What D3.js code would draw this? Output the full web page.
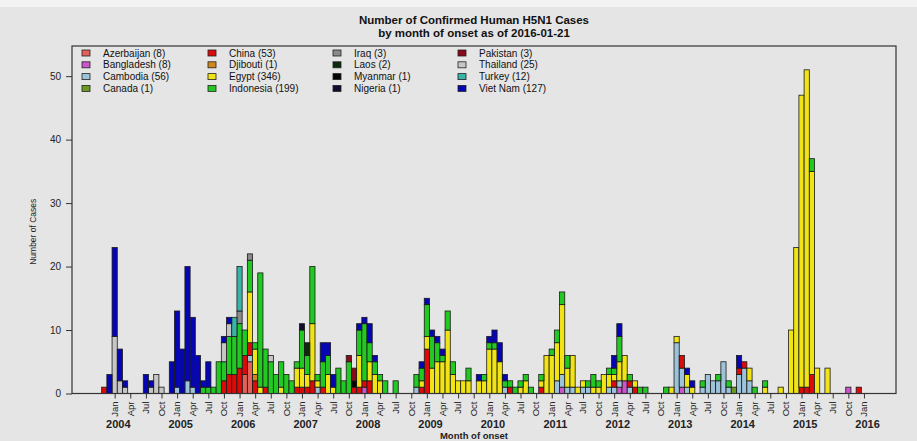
<!DOCTYPE html>
<html>
<head>
<meta charset="utf-8">
<script src="https://cdn.jsdelivr.net/npm/d3@7"></script>
<style>
  html, body { margin: 0; padding: 0; background: #e5e5e5; }
  svg { display: block; font-family: "Liberation Sans", Arial, sans-serif; }
</style>
</head>
<body>
<svg id="chart" width="917" height="441"></svg>
<script>
// ---- data ----------------------------------------------------------------
const titleLines = ["Number of Confirmed Human H5N1 Cases", "by month of onset as of 2016-01-21"];
const countries = ["Azerbaijan", "Bangladesh", "Cambodia", "Canada", "China", "Djibouti", "Egypt",
  "Indonesia", "Iraq", "Laos", "Myanmar", "Nigeria", "Pakistan", "Thailand", "Turkey", "Viet Nam"];
const totals = [8, 8, 56, 1, 53, 1, 346, 199, 3, 2, 1, 1, 3, 25, 12, 127];

// cases per month of onset, [month, cases]
const azerbaijan = [["2006-02", 3], ["2006-03", 5]];
const bangladesh = [["2008-01", 1], ["2011-03", 1], ["2012-02", 1], ["2012-03", 2], ["2013-02", 1], ["2015-10", 1]];
const cambodia = [["2005-01", 1], ["2005-03", 2], ["2005-04", 1], ["2006-03", 1], ["2007-04", 1], ["2008-11", 1],
  ["2010-04", 1], ["2011-02", 2], ["2011-03", 2], ["2011-04", 1], ["2011-05", 1], ["2011-07", 1], ["2011-08", 1],
  ["2011-12", 1], ["2012-01", 1], ["2012-02", 1], ["2012-04", 1], ["2013-01", 8], ["2013-02", 3], ["2013-03", 1],
  ["2013-06", 1], ["2013-07", 3], ["2013-08", 2], ["2013-09", 2], ["2013-10", 5], ["2013-11", 1],
  ["2014-01", 3], ["2014-02", 4], ["2014-03", 2]];
const canada = [["2013-12", 1]];
const china = [["2003-11", 1], ["2005-10", 2], ["2005-11", 3], ["2005-12", 3], ["2006-01", 4], ["2006-02", 3],
  ["2006-03", 2], ["2006-04", 2], ["2006-06", 1], ["2006-12", 1], ["2007-01", 1], ["2007-02", 1], ["2007-03", 2],
  ["2007-05", 1], ["2007-11", 1], ["2007-12", 1], ["2008-01", 1], ["2008-02", 2], ["2008-12", 1], ["2009-01", 7],
  ["2010-05", 1], ["2010-11", 1], ["2012-01", 1], ["2012-04", 1], ["2012-05", 1], ["2013-02", 2], ["2014-01", 1],
  ["2014-02", 1], ["2015-01", 1], ["2015-02", 1], ["2015-03", 3], ["2015-12", 1]];
const djibouti = [["2006-04", 1]];
const egypt = [["2006-03", 8], ["2006-04", 4], ["2006-05", 1], ["2006-09", 1], ["2006-12", 3], ["2007-01", 3],
  ["2007-02", 2], ["2007-03", 9], ["2007-04", 1], ["2007-06", 3], ["2007-07", 1], ["2007-12", 5], ["2008-02", 3],
  ["2008-03", 3], ["2008-04", 2], ["2008-12", 1], ["2009-01", 2], ["2009-02", 4], ["2009-03", 5], ["2009-04", 5],
  ["2009-05", 10], ["2009-06", 3], ["2009-07", 2], ["2009-08", 2], ["2009-09", 2], ["2009-11", 2], ["2009-12", 2],
  ["2010-01", 7], ["2010-02", 7], ["2010-03", 5], ["2010-07", 1], ["2010-08", 2], ["2010-11", 1], ["2010-12", 6],
  ["2011-01", 6], ["2011-02", 6], ["2011-03", 11], ["2011-04", 3], ["2011-05", 5], ["2011-06", 1], ["2011-07", 1],
  ["2011-09", 1], ["2011-10", 1], ["2011-11", 3], ["2011-12", 2], ["2012-01", 1], ["2012-02", 3], ["2012-03", 4],
  ["2012-05", 1], ["2012-12", 1], ["2013-01", 1], ["2013-03", 2], ["2013-04", 1], ["2014-03", 2], ["2014-06", 1],
  ["2014-09", 1], ["2014-11", 10], ["2014-12", 23], ["2015-01", 46], ["2015-02", 50], ["2015-03", 32],
  ["2015-04", 4], ["2015-06", 4]];
const indonesia = [["2005-06", 1], ["2005-07", 1], ["2005-08", 1], ["2005-09", 5], ["2005-10", 3], ["2005-11", 6],
  ["2005-12", 6], ["2006-01", 7], ["2006-02", 4], ["2006-03", 5], ["2006-04", 1], ["2006-05", 18], ["2006-06", 6],
  ["2006-07", 5], ["2006-08", 3], ["2006-09", 4], ["2006-10", 3], ["2006-11", 2], ["2006-12", 1], ["2007-01", 6],
  ["2007-02", 3], ["2007-03", 9], ["2007-04", 1], ["2007-05", 4], ["2007-06", 3], ["2007-08", 4], ["2007-09", 2],
  ["2007-10", 5], ["2007-12", 4], ["2008-01", 9], ["2008-02", 3], ["2008-03", 2], ["2008-04", 1], ["2008-05", 2],
  ["2008-07", 2], ["2008-11", 2], ["2008-12", 2], ["2009-01", 5], ["2009-02", 5], ["2009-03", 3], ["2009-04", 1],
  ["2009-05", 3], ["2009-06", 2], ["2009-09", 2], ["2009-12", 1], ["2010-01", 1], ["2010-02", 1], ["2010-04", 1],
  ["2010-05", 1], ["2010-06", 1], ["2010-07", 1], ["2010-08", 1], ["2010-09", 1], ["2010-11", 1], ["2011-01", 1],
  ["2011-02", 2], ["2011-03", 2], ["2011-04", 2], ["2011-08", 1], ["2011-09", 2], ["2011-10", 1], ["2011-12", 1],
  ["2012-01", 1], ["2012-02", 4], ["2012-04", 1], ["2012-06", 1], ["2012-07", 1], ["2012-11", 1], ["2013-06", 1],
  ["2013-09", 1], ["2013-11", 1], ["2014-04", 1], ["2014-06", 1], ["2015-03", 2]];
const iraq = [["2006-01", 2], ["2006-03", 1]];
const laos = [["2007-02", 2]];
const myanmar = [["2007-11", 1]];
const nigeria = [["2007-01", 1]];
const pakistan = [["2007-10", 1], ["2007-11", 2]];
const thailand = [["2004-01", 9], ["2004-02", 2], ["2004-03", 1], ["2004-08", 1], ["2004-09", 3], ["2004-10", 1],
  ["2005-10", 3], ["2005-11", 2], ["2006-07", 1]];
const turkey = [["2005-12", 3], ["2006-01", 7]];
const vietNam = [["2003-12", 3], ["2004-01", 14], ["2004-02", 5], ["2004-03", 1], ["2004-07", 3], ["2004-08", 1],
  ["2004-12", 5], ["2005-01", 12], ["2005-02", 7], ["2005-03", 18], ["2005-04", 11], ["2005-05", 6], ["2005-06", 1],
  ["2005-07", 4], ["2005-10", 1], ["2005-11", 1], ["2007-05", 3], ["2007-06", 2], ["2007-07", 2], ["2007-12", 1],
  ["2008-01", 1], ["2008-02", 3], ["2008-03", 1], ["2008-12", 1], ["2009-01", 1], ["2009-02", 1], ["2009-03", 1],
  ["2009-04", 1], ["2009-11", 1], ["2010-01", 1], ["2010-02", 2], ["2010-03", 3], ["2010-04", 1], ["2012-01", 2],
  ["2012-02", 2], ["2013-03", 1], ["2013-04", 1], ["2014-01", 2]];

const seriesData = [azerbaijan, bangladesh, cambodia, canada, china, djibouti, egypt, indonesia,
  iraq, laos, myanmar, nigeria, pakistan, thailand, turkey, vietNam];

const firstMonth = "2003-11";
const lastMonth = "2015-12";
const monthTickNames = ["Jan", "Apr", "Jul", "Oct"];
const yearLabels = ["2004", "2005", "2006", "2007", "2008", "2009", "2010", "2011", "2012", "2013", "2014", "2015", "2016"];
const yTicks = [0, 10, 20, 30, 40, 50];

// ---- styling -------------------------------------------------------------
const fills = ["#e2625a", "#cc55cc", "#9cc3da", "#6a9a1f", "#dd0a0a", "#d2871d", "#f1e416", "#22c922",
  "#8a8a8a", "#0c2a0c", "#050505", "#0e0e30", "#8b0a1a", "#c6c6c6", "#36b5a8", "#0505b4"];

// ---- build the monthly table ---------------------------------------------
const parseMonth = d3.timeParse("%Y-%m");
const fmtMonth = d3.timeFormat("%Y-%m");
const monthList = d3.timeMonth
  .range(parseMonth(firstMonth), d3.timeMonth.offset(parseMonth(lastMonth), 1))
  .map(fmtMonth);
// months counted from January 2004
const monthIndex = m => { const [yy, mm] = m.split("-").map(Number); return (yy - 2004) * 12 + (mm - 1); };

const table = monthList.map(m => {
  const row = { month: m };
  countries.forEach(c => row[c] = 0);
  return row;
});
const rowByMonth = new Map(table.map(r => [r.month, r]));
countries.forEach((c, i) => seriesData[i].forEach(([m, n]) => { rowByMonth.get(m)[c] += n; }));
const layers = d3.stack().keys(countries)(table);

// ---- scales --------------------------------------------------------------
const plot = { left: 72, right: 896, top: 46, bottom: 393.5 };
const x = d3.scaleLinear().domain([-7.7, 150.66]).range([plot.left, plot.right]);
const y = d3.scaleLinear().domain([0, 54.75]).range([plot.bottom, plot.top]);

const svg = d3.select("#chart");
svg.append("rect").attr("width", 917).attr("height", 441).attr("fill", "#e5e5e5");
svg.append("rect").attr("width", 917).attr("height", 7).attr("fill", "#f3f3f3");

// ---- title ---------------------------------------------------------------
svg.append("g").selectAll("text").data(titleLines).join("text")
  .attr("x", 474).attr("y", (d, i) => 24 + i * 13)
  .attr("text-anchor", "middle").attr("font-weight", "bold").attr("font-size", 11.5)
  .attr("fill", "#111").text(d => d);

// ---- bars ----------------------------------------------------------------
const barG = svg.append("g");
layers.forEach((layer, li) => {
  barG.append("g").attr("fill", fills[li])
    .selectAll("rect").data(layer.filter(d => d[1] > d[0])).join("rect")
    .attr("x", d => x(monthIndex(d.data.month)))
    .attr("width", d => x(monthIndex(d.data.month) + 1) - x(monthIndex(d.data.month)))
    .attr("y", d => y(d[1]))
    .attr("height", d => y(d[0]) - y(d[1]))
    .attr("stroke", "#1a1a1a").attr("stroke-width", 0.8);
});

// ---- box -----------------------------------------------------------------
svg.append("rect")
  .attr("x", plot.left).attr("y", plot.top)
  .attr("width", plot.right - plot.left).attr("height", plot.bottom - plot.top)
  .attr("fill", "none").attr("stroke", "#333").attr("stroke-width", 1.2);

// ---- y axis --------------------------------------------------------------
const yAxis = svg.append("g").attr("transform", `translate(${plot.left},0)`)
  .call(d3.axisLeft(y).tickValues(yTicks).tickSize(6).tickPadding(5).tickFormat(d3.format("d")));
yAxis.select(".domain").remove();
yAxis.selectAll("line").attr("stroke", "#333");
yAxis.selectAll("text").attr("font-size", 10).attr("fill", "#222")
  .attr("font-family", "Liberation Sans, Arial, sans-serif");

svg.append("text")
  .attr("transform", `translate(36,${(plot.top + plot.bottom) / 2 + 12}) rotate(-90)`)
  .attr("text-anchor", "middle").attr("font-size", 8.5).attr("fill", "#222")
  .text("Number of Cases");

// ---- x axis --------------------------------------------------------------
const xTicks = [];
yearLabels.forEach((yr, yi) => {
  monthTickNames.forEach((name, mi) => {
    if (yi < yearLabels.length - 1 || mi === 0) xTicks.push({ k: yi * 12 + mi * 3, name });
  });
});
const xAxis = svg.append("g").attr("transform", `translate(0,${plot.bottom})`)
  .call(d3.axisBottom(x).tickValues(xTicks.map(t => t.k + 0.5)).tickSize(5).tickFormat(""));
xAxis.select(".domain").remove();
xAxis.selectAll("line").attr("stroke", "#333");

svg.append("g").selectAll("text").data(xTicks).join("text")
  .attr("transform", d => `translate(${x(d.k + 0.5)},${plot.bottom + 8}) rotate(-90)`)
  .attr("text-anchor", "end").attr("dy", "0.35em")
  .attr("font-size", 9.5).attr("fill", "#222").text(d => d.name);

svg.append("g").selectAll("text").data(yearLabels).join("text")
  .attr("x", (d, i) => x(i * 12 + 1.2)).attr("y", 428)
  .attr("text-anchor", "middle").attr("font-weight", "bold").attr("font-size", 11)
  .attr("fill", "#222").text(d => d);

svg.append("text")
  .attr("x", 474).attr("y", 439).attr("text-anchor", "middle")
  .attr("font-weight", "bold").attr("font-size", 9.5).attr("fill", "#222")
  .text("Month of onset");

// ---- legend --------------------------------------------------------------
const legend = svg.append("g");
const legendItems = countries.map((c, i) => ({ label: `${c} (${totals[i]})`, fill: fills[i], col: Math.floor(i / 4), row: i % 4 }));
const colX = [82, 208, 333, 458];
const li = legend.selectAll("g").data(legendItems).join("g")
  .attr("transform", d => `translate(${colX[d.col]},${53 + d.row * 11.8})`);
li.append("rect").attr("x", 0).attr("y", -3).attr("width", 8).attr("height", 6)
  .attr("fill", d => d.fill).attr("stroke", "#222").attr("stroke-width", 0.8);
li.append("text").attr("x", 21).attr("dy", "0.35em").attr("font-size", 10)
  .attr("fill", "#111").text(d => d.label);
</script>
</body>
</html>
